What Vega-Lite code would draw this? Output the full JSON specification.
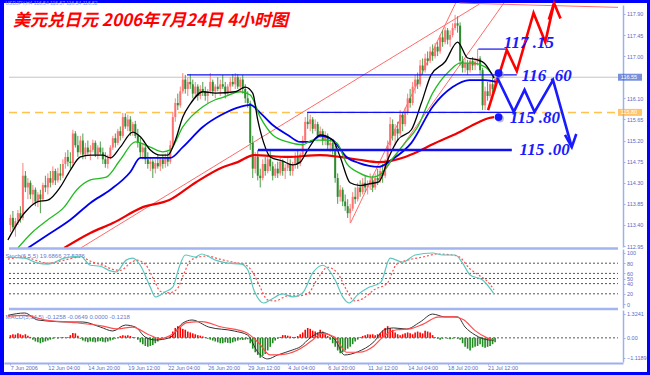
{
"$schema":"https://vega.github.io/schema/vega-lite/v6.json",
"width":643,"height":369,
"autosize":{"type":"none"},
"padding":{"left":4,"top":3,"right":3,"bottom":3},
"background":"#0000ff",
"view":{"fill":"#ffffff","stroke":null},
"config":{"axis":{"grid":false,"labelFont":"Liberation Sans","labelFontSize":5.5,"labelColor":"#5a6ac8","tickColor":"#9fb0ee","tickSize":2,"domainColor":"#9fb0ee","domainWidth":1.5,"labelPadding":1.5,"titleFont":"Liberation Sans","titleFontWeight":"normal"}},
"title":{"text":"美元兑日元 2006年7月24日  4小时图","anchor":"start","frame":"group","orient":"top","offset":-32,"dx":9,"font":"Noto Sans CJK SC","fontSize":17,"fontStyle":"italic","fontWeight":"bold","color":"#ff0000"},
"datasets":{
"c":[
{"i":1,"o":113.4,"h":113.62,"l":113.25,"c":113.55,"m":0.15},
{"i":2,"o":113.55,"h":113.7,"l":113.3,"c":113.35,"m":0.2},
{"i":3,"o":113.35,"h":113.55,"l":113.15,"c":113.48,"m":0.18},
{"i":4,"o":113.48,"h":113.72,"l":113.4,"c":113.65,"m":0.25},
{"i":5,"o":113.65,"h":113.8,"l":113.45,"c":113.55,"m":0.2},
{"i":6,"o":113.55,"h":114.72,"l":113.5,"c":114.45,"m":0.15},
{"i":7,"o":114.45,"h":114.55,"l":114.1,"c":114.2,"m":0.2},
{"i":8,"o":114.2,"h":114.4,"l":113.95,"c":114.3,"m":0.12},
{"i":9,"o":114.3,"h":114.35,"l":113.95,"c":114.05,"m":0.05},
{"i":10,"o":114.05,"h":114.25,"l":113.85,"c":114.15,"m":-0.1},
{"i":11,"o":114.15,"h":114.2,"l":113.8,"c":113.9,"m":-0.2},
{"i":12,"o":113.9,"h":114.1,"l":113.78,"c":114.05,"m":-0.25},
{"i":13,"o":114.05,"h":114.15,"l":113.65,"c":113.95,"m":-0.3},
{"i":14,"o":113.95,"h":114.3,"l":113.9,"c":114.25,"m":-0.25},
{"i":15,"o":114.25,"h":114.45,"l":114.1,"c":114.2,"m":-0.2},
{"i":16,"o":114.2,"h":114.5,"l":114.05,"c":114.4,"m":-0.15},
{"i":17,"o":114.4,"h":114.55,"l":114.2,"c":114.3,"m":-0.1},
{"i":18,"o":114.3,"h":114.65,"l":114.25,"c":114.55,"m":-0.05},
{"i":19,"o":114.55,"h":114.6,"l":114.25,"c":114.35,"m":0.02},
{"i":20,"o":114.35,"h":114.62,"l":114.3,"c":114.5,"m":-0.03},
{"i":21,"o":114.5,"h":114.7,"l":114.35,"c":114.45,"m":0.03},
{"i":22,"o":114.45,"h":114.8,"l":114.4,"c":114.7,"m":0.05},
{"i":23,"o":114.7,"h":114.95,"l":114.6,"c":114.85,"m":0.02},
{"i":24,"o":114.85,"h":115.0,"l":114.65,"c":114.75,"m":0.05},
{"i":25,"o":114.75,"h":114.95,"l":114.6,"c":114.72,"m":0.15},
{"i":26,"o":114.72,"h":115.43,"l":114.65,"c":115.35,"m":0.27},
{"i":27,"o":115.35,"h":115.4,"l":115.05,"c":115.1,"m":0.25},
{"i":28,"o":115.1,"h":115.3,"l":114.85,"c":114.95,"m":0.12},
{"i":29,"o":114.95,"h":115.3,"l":114.9,"c":115.2,"m":-0.05},
{"i":30,"o":115.2,"h":115.35,"l":114.8,"c":114.9,"m":-0.15},
{"i":31,"o":114.9,"h":115.15,"l":114.8,"c":115.05,"m":-0.2},
{"i":32,"o":115.05,"h":115.2,"l":114.9,"c":114.95,"m":-0.25},
{"i":33,"o":114.95,"h":115.1,"l":114.78,"c":115.0,"m":-0.2},
{"i":34,"o":115.0,"h":115.22,"l":114.95,"c":115.15,"m":-0.22},
{"i":35,"o":115.15,"h":115.2,"l":114.85,"c":114.9,"m":-0.25},
{"i":36,"o":114.9,"h":115.1,"l":114.8,"c":115.05,"m":-0.2},
{"i":37,"o":115.05,"h":115.18,"l":114.9,"c":114.95,"m":-0.18},
{"i":38,"o":114.95,"h":115.05,"l":114.7,"c":114.8,"m":-0.22},
{"i":39,"o":114.8,"h":114.95,"l":114.62,"c":114.7,"m":-0.25},
{"i":40,"o":114.7,"h":114.9,"l":114.6,"c":114.85,"m":-0.2},
{"i":41,"o":114.85,"h":115.1,"l":114.8,"c":115.05,"m":-0.15},
{"i":42,"o":115.05,"h":115.3,"l":115.0,"c":115.25,"m":-0.1},
{"i":43,"o":115.25,"h":115.35,"l":115.05,"c":115.15,"m":-0.05},
{"i":44,"o":115.15,"h":115.45,"l":115.1,"c":115.4,"m":0.02},
{"i":45,"o":115.4,"h":115.5,"l":115.2,"c":115.3,"m":0.1},
{"i":46,"o":115.3,"h":115.79,"l":115.25,"c":115.7,"m":0.15},
{"i":47,"o":115.7,"h":115.78,"l":115.45,"c":115.5,"m":0.12},
{"i":48,"o":115.5,"h":115.75,"l":115.4,"c":115.65,"m":0.15},
{"i":49,"o":115.65,"h":115.72,"l":115.3,"c":115.4,"m":0.1},
{"i":50,"o":115.4,"h":115.6,"l":115.3,"c":115.55,"m":0.05},
{"i":51,"o":115.55,"h":115.62,"l":115.25,"c":115.3,"m":0.02},
{"i":52,"o":115.3,"h":115.45,"l":115.05,"c":115.15,"m":-0.1},
{"i":53,"o":115.15,"h":115.25,"l":114.85,"c":114.95,"m":-0.25},
{"i":54,"o":114.95,"h":115.15,"l":114.8,"c":115.05,"m":-0.35},
{"i":55,"o":115.05,"h":115.1,"l":114.7,"c":114.8,"m":-0.45},
{"i":56,"o":114.8,"h":114.95,"l":114.6,"c":114.7,"m":-0.5},
{"i":57,"o":114.7,"h":114.85,"l":114.55,"c":114.75,"m":-0.45},
{"i":58,"o":114.75,"h":114.8,"l":114.4,"c":114.6,"m":-0.4},
{"i":59,"o":114.6,"h":114.8,"l":114.5,"c":114.72,"m":-0.3},
{"i":60,"o":114.72,"h":114.9,"l":114.6,"c":114.65,"m":-0.2},
{"i":61,"o":114.65,"h":114.85,"l":114.55,"c":114.8,"m":-0.1},
{"i":62,"o":114.8,"h":114.9,"l":114.6,"c":114.7,"m":-0.05},
{"i":63,"o":114.7,"h":114.92,"l":114.62,"c":114.85,"m":0.02},
{"i":64,"o":114.85,"h":114.95,"l":114.65,"c":114.75,"m":0.01},
{"i":65,"o":114.75,"h":115.2,"l":114.7,"c":115.1,"m":0.1},
{"i":66,"o":115.1,"h":115.81,"l":115.05,"c":115.7,"m":0.35},
{"i":67,"o":115.7,"h":116.1,"l":115.6,"c":116.0,"m":0.55},
{"i":68,"o":116.0,"h":116.2,"l":115.85,"c":115.95,"m":0.65},
{"i":69,"o":115.95,"h":116.35,"l":115.9,"c":116.25,"m":0.6},
{"i":70,"o":116.25,"h":116.64,"l":116.2,"c":116.5,"m":0.5},
{"i":71,"o":116.5,"h":116.6,"l":116.2,"c":116.3,"m":0.45},
{"i":72,"o":116.3,"h":116.55,"l":116.15,"c":116.45,"m":0.35},
{"i":73,"o":116.45,"h":116.62,"l":116.3,"c":116.4,"m":0.3},
{"i":74,"o":116.4,"h":116.5,"l":116.1,"c":116.2,"m":0.25},
{"i":75,"o":116.2,"h":116.45,"l":116.1,"c":116.35,"m":0.2},
{"i":76,"o":116.35,"h":116.4,"l":116.05,"c":116.15,"m":0.15},
{"i":77,"o":116.15,"h":116.38,"l":116.08,"c":116.3,"m":0.12},
{"i":78,"o":116.3,"h":116.45,"l":116.15,"c":116.25,"m":0.08},
{"i":79,"o":116.25,"h":116.35,"l":116.05,"c":116.15,"m":0.03},
{"i":80,"o":116.15,"h":116.3,"l":116.0,"c":116.25,"m":-0.05},
{"i":81,"o":116.25,"h":116.64,"l":116.2,"c":116.45,"m":-0.1},
{"i":82,"o":116.45,"h":116.5,"l":116.15,"c":116.25,"m":-0.15},
{"i":83,"o":116.25,"h":116.4,"l":116.1,"c":116.35,"m":-0.2},
{"i":84,"o":116.35,"h":116.55,"l":116.25,"c":116.3,"m":-0.25},
{"i":85,"o":116.3,"h":116.5,"l":116.15,"c":116.4,"m":-0.3},
{"i":86,"o":116.4,"h":116.6,"l":116.3,"c":116.35,"m":-0.3},
{"i":87,"o":116.35,"h":116.45,"l":116.1,"c":116.2,"m":-0.25},
{"i":88,"o":116.2,"h":116.4,"l":116.15,"c":116.35,"m":-0.28},
{"i":89,"o":116.35,"h":116.55,"l":116.25,"c":116.45,"m":-0.3},
{"i":90,"o":116.45,"h":116.62,"l":116.35,"c":116.4,"m":-0.25},
{"i":91,"o":116.4,"h":116.64,"l":116.3,"c":116.55,"m":-0.2},
{"i":92,"o":116.55,"h":116.62,"l":116.3,"c":116.35,"m":-0.15},
{"i":93,"o":116.35,"h":116.55,"l":116.25,"c":116.5,"m":-0.1},
{"i":94,"o":116.5,"h":116.6,"l":116.2,"c":116.3,"m":-0.12},
{"i":95,"o":116.3,"h":116.4,"l":116.0,"c":116.1,"m":-0.1},
{"i":96,"o":116.1,"h":116.25,"l":115.9,"c":116.0,"m":-0.08},
{"i":97,"o":116.0,"h":116.05,"l":115.0,"c":115.15,"m":-0.3},
{"i":98,"o":115.15,"h":115.3,"l":114.4,"c":114.6,"m":-0.6},
{"i":99,"o":114.6,"h":114.95,"l":114.5,"c":114.85,"m":-0.8},
{"i":100,"o":114.85,"h":115.0,"l":114.35,"c":114.45,"m":-0.95},
{"i":101,"o":114.45,"h":114.6,"l":114.2,"c":114.4,"m":-1.1},
{"i":102,"o":114.4,"h":114.8,"l":114.35,"c":114.7,"m":-1.0},
{"i":103,"o":114.7,"h":114.85,"l":114.45,"c":114.55,"m":-0.9},
{"i":104,"o":114.55,"h":114.9,"l":114.5,"c":114.8,"m":-0.7},
{"i":105,"o":114.8,"h":115.0,"l":114.55,"c":114.65,"m":-0.5},
{"i":106,"o":114.65,"h":114.75,"l":114.35,"c":114.45,"m":-0.3},
{"i":107,"o":114.45,"h":114.7,"l":114.4,"c":114.6,"m":-0.15},
{"i":108,"o":114.6,"h":114.75,"l":114.4,"c":114.5,"m":-0.05},
{"i":109,"o":114.5,"h":114.85,"l":114.45,"c":114.75,"m":0.05},
{"i":110,"o":114.75,"h":114.8,"l":114.45,"c":114.55,"m":0.15},
{"i":111,"o":114.55,"h":114.7,"l":114.38,"c":114.62,"m":0.15},
{"i":112,"o":114.62,"h":114.85,"l":114.55,"c":114.7,"m":0.12},
{"i":113,"o":114.7,"h":114.8,"l":114.45,"c":114.55,"m":0.08},
{"i":114,"o":114.55,"h":114.75,"l":114.45,"c":114.68,"m":0.05},
{"i":115,"o":114.68,"h":114.95,"l":114.6,"c":114.85,"m":0.05},
{"i":116,"o":114.85,"h":115.0,"l":114.6,"c":114.7,"m":0.1},
{"i":117,"o":114.7,"h":114.95,"l":114.65,"c":114.9,"m":0.2},
{"i":118,"o":114.9,"h":115.3,"l":114.85,"c":115.2,"m":0.3},
{"i":119,"o":115.2,"h":115.7,"l":115.15,"c":115.6,"m":0.45},
{"i":120,"o":115.6,"h":115.81,"l":115.45,"c":115.55,"m":0.55},
{"i":121,"o":115.55,"h":115.75,"l":115.4,"c":115.65,"m":0.5},
{"i":122,"o":115.65,"h":115.7,"l":115.35,"c":115.45,"m":0.4},
{"i":123,"o":115.45,"h":115.65,"l":115.4,"c":115.55,"m":0.35},
{"i":124,"o":115.55,"h":115.6,"l":115.25,"c":115.3,"m":0.3},
{"i":125,"o":115.3,"h":115.5,"l":115.25,"c":115.4,"m":0.45},
{"i":126,"o":115.4,"h":115.45,"l":115.1,"c":115.2,"m":0.35},
{"i":127,"o":115.2,"h":115.4,"l":115.1,"c":115.3,"m":0.2},
{"i":128,"o":115.3,"h":115.35,"l":115.0,"c":115.1,"m":0.1},
{"i":129,"o":115.1,"h":115.25,"l":114.95,"c":115.15,"m":-0.1},
{"i":130,"o":115.15,"h":115.2,"l":114.9,"c":115.0,"m":-0.3},
{"i":131,"o":115.0,"h":115.1,"l":114.3,"c":114.4,"m":-0.5},
{"i":132,"o":114.4,"h":114.5,"l":113.85,"c":114.0,"m":-0.7},
{"i":133,"o":114.0,"h":114.25,"l":113.9,"c":114.15,"m":-0.85},
{"i":134,"o":114.15,"h":114.2,"l":113.8,"c":113.9,"m":-0.8},
{"i":135,"o":113.9,"h":114.05,"l":113.7,"c":113.8,"m":-0.7},
{"i":136,"o":113.8,"h":113.95,"l":113.55,"c":113.65,"m":-0.6},
{"i":137,"o":113.65,"h":113.85,"l":113.44,"c":113.75,"m":-0.5},
{"i":138,"o":113.75,"h":114.1,"l":113.7,"c":114.0,"m":-0.35},
{"i":139,"o":114.0,"h":114.2,"l":113.85,"c":113.95,"m":-0.2},
{"i":140,"o":113.95,"h":114.3,"l":113.9,"c":114.2,"m":-0.1},
{"i":141,"o":114.2,"h":114.35,"l":114.0,"c":114.1,"m":0.05},
{"i":142,"o":114.1,"h":114.4,"l":114.05,"c":114.3,"m":0.1},
{"i":143,"o":114.3,"h":114.45,"l":114.1,"c":114.2,"m":0.15},
{"i":144,"o":114.2,"h":114.35,"l":114.05,"c":114.25,"m":0.2},
{"i":145,"o":114.25,"h":114.5,"l":114.15,"c":114.35,"m":0.18},
{"i":146,"o":114.35,"h":114.45,"l":114.1,"c":114.2,"m":0.2},
{"i":147,"o":114.2,"h":114.5,"l":114.15,"c":114.4,"m":0.15},
{"i":148,"o":114.4,"h":114.6,"l":114.25,"c":114.35,"m":0.2},
{"i":149,"o":114.35,"h":114.65,"l":114.3,"c":114.55,"m":0.25},
{"i":150,"o":114.55,"h":114.7,"l":114.3,"c":114.45,"m":0.4},
{"i":151,"o":114.45,"h":114.8,"l":114.4,"c":114.7,"m":0.55},
{"i":152,"o":114.7,"h":115.2,"l":114.65,"c":115.1,"m":0.65},
{"i":153,"o":115.1,"h":115.7,"l":115.0,"c":115.55,"m":0.55},
{"i":154,"o":115.55,"h":115.65,"l":115.2,"c":115.3,"m":0.45},
{"i":155,"o":115.3,"h":115.55,"l":115.1,"c":115.45,"m":0.3},
{"i":156,"o":115.45,"h":115.6,"l":115.2,"c":115.35,"m":0.2},
{"i":157,"o":115.35,"h":115.85,"l":115.3,"c":115.75,"m":0.15},
{"i":158,"o":115.75,"h":115.8,"l":115.4,"c":115.55,"m":0.2},
{"i":159,"o":115.55,"h":115.9,"l":115.5,"c":115.8,"m":0.25},
{"i":160,"o":115.8,"h":116.2,"l":115.75,"c":116.1,"m":0.3},
{"i":161,"o":116.1,"h":116.3,"l":115.9,"c":116.0,"m":0.25},
{"i":162,"o":116.0,"h":116.45,"l":115.95,"c":116.35,"m":0.2},
{"i":163,"o":116.35,"h":116.6,"l":116.2,"c":116.5,"m":0.3},
{"i":164,"o":116.5,"h":116.65,"l":116.3,"c":116.4,"m":0.35},
{"i":165,"o":116.4,"h":116.92,"l":116.35,"c":116.8,"m":0.3},
{"i":166,"o":116.8,"h":116.95,"l":116.6,"c":116.7,"m":0.25},
{"i":167,"o":116.7,"h":117.05,"l":116.65,"c":116.95,"m":0.4},
{"i":168,"o":116.95,"h":117.1,"l":116.8,"c":116.9,"m":0.35},
{"i":169,"o":116.9,"h":117.2,"l":116.85,"c":117.1,"m":0.3},
{"i":170,"o":117.1,"h":117.25,"l":116.9,"c":117.0,"m":0.15},
{"i":171,"o":117.0,"h":117.28,"l":116.95,"c":117.2,"m":0.05},
{"i":172,"o":117.2,"h":117.3,"l":117.0,"c":117.1,"m":-0.05},
{"i":173,"o":117.1,"h":117.45,"l":117.05,"c":117.4,"m":-0.1},
{"i":174,"o":117.4,"h":117.55,"l":117.2,"c":117.3,"m":-0.05},
{"i":175,"o":117.3,"h":117.62,"l":117.25,"c":117.55,"m":0.02},
{"i":176,"o":117.55,"h":117.6,"l":117.25,"c":117.35,"m":-0.05},
{"i":177,"o":117.35,"h":117.55,"l":117.2,"c":117.45,"m":-0.08},
{"i":178,"o":117.45,"h":117.7,"l":117.4,"c":117.6,"m":-0.05},
{"i":179,"o":117.6,"h":117.88,"l":117.55,"c":117.7,"m":0.03},
{"i":180,"o":117.7,"h":117.85,"l":117.5,"c":117.65,"m":-0.05},
{"i":181,"o":117.65,"h":117.72,"l":116.8,"c":116.9,"m":-0.1},
{"i":182,"o":116.9,"h":117.0,"l":116.65,"c":116.75,"m":-0.3},
{"i":183,"o":116.75,"h":116.95,"l":116.65,"c":116.85,"m":-0.5},
{"i":184,"o":116.85,"h":116.92,"l":116.6,"c":116.7,"m":-0.6},
{"i":185,"o":116.7,"h":116.95,"l":116.65,"c":116.9,"m":-0.7},
{"i":186,"o":116.9,"h":116.98,"l":116.7,"c":116.8,"m":-0.55},
{"i":187,"o":116.8,"h":116.95,"l":116.7,"c":116.88,"m":-0.5},
{"i":188,"o":116.88,"h":117.15,"l":116.8,"c":116.95,"m":-0.45},
{"i":189,"o":116.95,"h":117.0,"l":116.6,"c":116.7,"m":-0.35},
{"i":190,"o":116.7,"h":116.75,"l":115.85,"c":115.95,"m":-0.5},
{"i":191,"o":115.95,"h":116.35,"l":115.85,"c":116.25,"m":-0.55},
{"i":192,"o":116.25,"h":116.45,"l":116.05,"c":116.15,"m":-0.5},
{"i":193,"o":116.15,"h":116.5,"l":116.1,"c":116.4,"m":-0.45},
{"i":194,"o":116.4,"h":116.55,"l":116.2,"c":116.3,"m":-0.35},
{"i":195,"o":116.3,"h":116.57,"l":116.25,"c":116.52,"m":-0.25}
],
"bk":[{"i":0,"p":113.08},{"i":6.7,"p":113.66},{"i":12,"p":113.9},{"i":16,"p":113.93},{"i":21,"p":114.21},{"i":25,"p":114.57},{"i":29,"p":114.85},{"i":33,"p":114.89},{"i":38,"p":114.89},{"i":41,"p":114.83},{"i":45,"p":115.06},{"i":50,"p":115.38},{"i":53,"p":115.28},{"i":57,"p":115.0},{"i":61,"p":114.89},{"i":64,"p":114.89},{"i":67,"p":115.2},{"i":70,"p":115.7},{"i":73,"p":115.98},{"i":78,"p":116.24},{"i":83,"p":116.21},{"i":91,"p":116.24},{"i":95,"p":116.34},{"i":98,"p":116.21},{"i":100,"p":115.64},{"i":102.4,"p":115.15},{"i":105,"p":114.85},{"i":110,"p":114.76},{"i":114,"p":114.68},{"i":117,"p":114.74},{"i":120,"p":115.0},{"i":125,"p":115.32},{"i":130,"p":115.21},{"i":133,"p":114.85},{"i":137,"p":114.3},{"i":141,"p":114.24},{"i":145,"p":114.28},{"i":148.5,"p":114.32},{"i":152.5,"p":114.85},{"i":156,"p":115.21},{"i":161.5,"p":115.43},{"i":165.5,"p":116.0},{"i":169.4,"p":116.6},{"i":175,"p":116.88},{"i":180,"p":117.3},{"i":184,"p":116.96},{"i":188,"p":116.92},{"i":190.7,"p":116.85},{"i":194.6,"p":116.53}],
"gr":[{"i":4,"p":112.91},{"i":9.5,"p":113.23},{"i":16,"p":113.51},{"i":22.5,"p":113.78},{"i":27.6,"p":114.15},{"i":33,"p":114.36},{"i":39.4,"p":114.42},{"i":45,"p":114.79},{"i":51,"p":115.17},{"i":57,"p":115.06},{"i":62,"p":114.96},{"i":65,"p":115.0},{"i":70,"p":115.49},{"i":78,"p":115.92},{"i":83,"p":116.07},{"i":85.5,"p":116.11},{"i":93,"p":116.24},{"i":97,"p":116.17},{"i":101,"p":115.7},{"i":106,"p":115.32},{"i":112,"p":115.17},{"i":118,"p":115.11},{"i":122,"p":115.21},{"i":127.6,"p":115.21},{"i":131.6,"p":115.15},{"i":135.5,"p":114.72},{"i":140.6,"p":114.51},{"i":145.8,"p":114.42},{"i":149.7,"p":114.51},{"i":153.6,"p":114.79},{"i":159,"p":115.15},{"i":164,"p":115.49},{"i":170,"p":116.21},{"i":177,"p":116.7},{"i":181,"p":116.85},{"i":186,"p":116.85},{"i":191,"p":116.77},{"i":194.6,"p":116.56}],
"bl":[{"i":8,"p":112.91},{"i":16,"p":113.19},{"i":25,"p":113.51},{"i":33,"p":113.87},{"i":41,"p":114.15},{"i":49,"p":114.53},{"i":53,"p":114.83},{"i":65,"p":114.83},{"i":70,"p":115.06},{"i":78,"p":115.49},{"i":85.5,"p":115.75},{"i":93,"p":115.92},{"i":97,"p":115.96},{"i":101,"p":115.79},{"i":106,"p":115.53},{"i":112,"p":115.32},{"i":117,"p":115.17},{"i":121,"p":115.17},{"i":125,"p":115.3},{"i":130,"p":115.21},{"i":135.5,"p":114.85},{"i":140.6,"p":114.72},{"i":148.5,"p":114.64},{"i":153.6,"p":114.79},{"i":161.5,"p":115.15},{"i":170,"p":115.92},{"i":178,"p":116.34},{"i":184.7,"p":116.49},{"i":191,"p":116.49},{"i":195.5,"p":116.45}],
"rd":[{"i":22.5,"p":112.91},{"i":33,"p":113.23},{"i":42,"p":113.44},{"i":54,"p":113.78},{"i":64.6,"p":113.93},{"i":75,"p":114.3},{"i":85.5,"p":114.62},{"i":92,"p":114.74},{"i":98.5,"p":114.89},{"i":112,"p":114.85},{"i":124.9,"p":114.89},{"i":133,"p":114.85},{"i":140.6,"p":114.79},{"i":148.5,"p":114.74},{"i":159,"p":114.85},{"i":164,"p":114.96},{"i":170,"p":115.12},{"i":180,"p":115.36},{"i":188,"p":115.58},{"i":192.6,"p":115.68},{"i":194.6,"p":115.7}],
"k":[{"i":0,"v":92},{"i":6.7,"v":90},{"i":12,"v":80},{"i":16,"v":78},{"i":22.5,"v":90},{"i":29,"v":94},{"i":33,"v":76},{"i":37,"v":74},{"i":41,"v":65},{"i":43.4,"v":63},{"i":47.3,"v":86},{"i":50,"v":90},{"i":53,"v":76},{"i":57,"v":33},{"i":59,"v":14},{"i":63,"v":24},{"i":66,"v":33},{"i":68.6,"v":73},{"i":71,"v":96},{"i":75,"v":92},{"i":77.6,"v":98},{"i":83,"v":86},{"i":88,"v":80},{"i":93.4,"v":78},{"i":96,"v":67},{"i":98.5,"v":27},{"i":102.4,"v":2},{"i":105,"v":8},{"i":110,"v":20},{"i":114,"v":14},{"i":118,"v":22},{"i":122,"v":61},{"i":126,"v":76},{"i":131,"v":47},{"i":134,"v":14},{"i":136.7,"v":2},{"i":139.9,"v":18},{"i":143.8,"v":31},{"i":149.3,"v":43},{"i":153,"v":90},{"i":158,"v":82},{"i":163,"v":96},{"i":170,"v":100},{"i":174,"v":96},{"i":179,"v":96},{"i":182,"v":80},{"i":185,"v":57},{"i":190,"v":47},{"i":194.6,"v":20}],
"d":[{"i":0,"v":88},{"i":6.7,"v":92},{"i":12,"v":84},{"i":16,"v":80},{"i":22.5,"v":86},{"i":29,"v":92},{"i":34,"v":82},{"i":38,"v":76},{"i":42,"v":68},{"i":45,"v":66},{"i":49,"v":80},{"i":51.5,"v":86},{"i":55,"v":78},{"i":58.7,"v":45},{"i":61,"v":25},{"i":64.6,"v":22},{"i":67.8,"v":30},{"i":70.5,"v":60},{"i":73,"v":85},{"i":76.4,"v":92},{"i":79.6,"v":94},{"i":84.7,"v":88},{"i":90,"v":82},{"i":95.4,"v":76},{"i":98,"v":62},{"i":100.5,"v":38},{"i":104,"v":8},{"i":107,"v":6},{"i":112,"v":16},{"i":116,"v":16},{"i":120,"v":20},{"i":124,"v":50},{"i":128,"v":72},{"i":132,"v":60},{"i":135.5,"v":28},{"i":138.7,"v":6},{"i":142.6,"v":12},{"i":146.6,"v":28},{"i":151.7,"v":40},{"i":155.6,"v":78},{"i":160,"v":86},{"i":166,"v":92},{"i":172,"v":98},{"i":178,"v":96},{"i":180.8,"v":92},{"i":184.7,"v":70},{"i":188.7,"v":56},{"i":191.8,"v":45},{"i":194.6,"v":28}],
"mm":[{"i":0,"v":1.25},{"i":6.7,"v":1.38},{"i":12,"v":0.99},{"i":25,"v":0.88},{"i":30,"v":0.88},{"i":37,"v":0.6},{"i":42,"v":0.38},{"i":47,"v":0.71},{"i":51,"v":0.6},{"i":55,"v":0.04},{"i":59,"v":-0.12},{"i":64.6,"v":0.0},{"i":70,"v":0.82},{"i":73.7,"v":0.99},{"i":80.4,"v":0.6},{"i":90.6,"v":0.38},{"i":96,"v":0.15},{"i":100,"v":-0.79},{"i":104,"v":-1.17},{"i":108,"v":-0.95},{"i":114,"v":-0.67},{"i":117,"v":-0.5},{"i":121,"v":0.0},{"i":125.5,"v":0.3},{"i":131,"v":-0.12},{"i":134.7,"v":-0.95},{"i":139.9,"v":-0.78},{"i":146.5,"v":-0.22},{"i":150.5,"v":0.44},{"i":154.4,"v":0.55},{"i":159.5,"v":0.49},{"i":165,"v":0.88},{"i":170,"v":1.32},{"i":175,"v":1.16},{"i":180,"v":1.16},{"i":183,"v":0.6},{"i":187,"v":0.16},{"i":192.6,"v":-0.12},{"i":194.6,"v":-0.13}],
"ms":[{"i":0,"v":1.2},{"i":6.7,"v":1.25},{"i":14.6,"v":1.0},{"i":26.4,"v":0.85},{"i":38,"v":0.65},{"i":44,"v":0.5},{"i":50,"v":0.6},{"i":56,"v":0.2},{"i":61,"v":-0.05},{"i":65.8,"v":0.2},{"i":71.7,"v":0.85},{"i":77.6,"v":0.9},{"i":85.5,"v":0.6},{"i":95.3,"v":0.3},{"i":100.5,"v":-0.3},{"i":105,"v":-0.95},{"i":111,"v":-0.9},{"i":117,"v":-0.6},{"i":121.7,"v":-0.15},{"i":125.7,"v":0.25},{"i":130.8,"v":0.05},{"i":135.5,"v":-0.8},{"i":140.6,"v":-0.8},{"i":146.5,"v":-0.45},{"i":150.5,"v":0.1},{"i":155.6,"v":0.45},{"i":161,"v":0.5},{"i":166,"v":0.75},{"i":172,"v":1.15},{"i":178,"v":1.18},{"i":182.4,"v":1.0},{"i":187,"v":0.4},{"i":191.8,"v":0.0},{"i":194.6,"v":-0.12}]
},
"layer":[
 {"data":{"values":[{"p":116.55}]},"mark":{"type":"rule","color":"#c4c4c4","strokeWidth":1},
  "encoding":{"x":{"datum":0.44,"type":"quantitative","scale":{"domain":[0.44,244.2],"range":[0,619],"nice":false,"zero":false},"axis":null},"x2":{"datum":244.2},"y":{"field":"p","type":"quantitative","scale":{"domain":[112.93,118.09],"range":[244,2],"nice":false,"zero":false},"axis":null}}},
 {"data":{"values":[{"p":115.8}]},"mark":{"type":"rule","color":"#ffc24f","strokeWidth":1.5,"strokeDash":[8,5]},
  "encoding":{"x":{"datum":0.44,"type":"quantitative","axis":null},"x2":{"datum":244.2},"y":{"field":"p","type":"quantitative","scale":{"domain":[112.93,118.09],"range":[244,2],"nice":false,"zero":false},"axis":null}}},
 {"data":{"values":[{"i1":29.2,"p1":112.91,"i2":188.7,"p2":118.11},{"i1":137.1,"p1":113.44,"i2":179.2,"p2":118.13},{"i1":145.4,"p1":114.15,"i2":198.5,"p2":118.13},{"i1":180.8,"p1":118.13,"i2":244.2,"p2":118.04}]},
  "mark":{"type":"rule","color":"#ff6a6a","strokeWidth":1},
  "encoding":{"x":{"field":"i1","type":"quantitative","axis":null},"x2":{"field":"i2"},"y":{"field":"p1","type":"quantitative","scale":{"domain":[112.93,118.09],"range":[244,2],"nice":false,"zero":false},"axis":null},"y2":{"field":"p2"}}},
 {"data":{"name":"c"},"mark":{"type":"rule","strokeWidth":1},
  "encoding":{"x":{"field":"i","type":"quantitative","axis":null},"y":{"field":"l","type":"quantitative","scale":{"domain":[112.93,118.09],"range":[244,2],"nice":false,"zero":false},"axis":{"orient":"right","offset":-24,"values":[112.95,113.4,113.85,114.3,114.75,115.2,115.65,116.1,117,117.45,117.9],"format":".2f","labelOverlap":false,"title":"USDJPY,H4  116.54 116.57 116.54 116.52","titleAngle":0,"titleAlign":"left","titleBaseline":"top","titleX":-618,"titleY":-2.5,"titleFontSize":5,"titleColor":"#8a9ad8"}},"y2":{"field":"h"},
   "color":{"condition":{"test":"datum.c >= datum.o","value":"#ff8080"},"value":"#4a9f4a"}}},
 {"data":{"name":"c"},"mark":{"type":"bar","size":2},
  "encoding":{"x":{"field":"i","type":"quantitative","axis":null},"y":{"field":"o","type":"quantitative","scale":{"domain":[112.93,118.09],"range":[244,2],"nice":false,"zero":false},"axis":null},"y2":{"field":"c"},
   "color":{"condition":{"test":"datum.c >= datum.o","value":"#ff7070"},"value":"#2e8b2e"}}},
 {"data":{"name":"rd"},"mark":{"type":"line","color":"#ee0000","strokeWidth":2.2,"interpolate":"monotone"},"encoding":{"x":{"field":"i","type":"quantitative","axis":null},"y":{"field":"p","type":"quantitative","scale":{"domain":[112.93,118.09],"range":[244,2],"nice":false,"zero":false},"axis":null}}},
 {"data":{"name":"bl"},"mark":{"type":"line","color":"#0000ee","strokeWidth":1.8,"interpolate":"monotone"},"encoding":{"x":{"field":"i","type":"quantitative","axis":null},"y":{"field":"p","type":"quantitative","scale":{"domain":[112.93,118.09],"range":[244,2],"nice":false,"zero":false},"axis":null}}},
 {"data":{"name":"gr"},"mark":{"type":"line","color":"#22bb22","strokeWidth":1.3,"interpolate":"monotone"},"encoding":{"x":{"field":"i","type":"quantitative","axis":null},"y":{"field":"p","type":"quantitative","scale":{"domain":[112.93,118.09],"range":[244,2],"nice":false,"zero":false},"axis":null}}},
 {"data":{"name":"bk"},"mark":{"type":"line","color":"#000000","strokeWidth":1.3,"interpolate":"monotone"},"encoding":{"x":{"field":"i","type":"quantitative","axis":null},"y":{"field":"p","type":"quantitative","scale":{"domain":[112.93,118.09],"range":[244,2],"nice":false,"zero":false},"axis":null}}},
 {"data":{"values":[{"p":117.15,"i1":188.3,"i2":199.7},{"p":116.6,"i1":71.7,"i2":203.7},{"p":115.8,"i1":119.8,"i2":202.5},{"p":115.0,"i1":100.1,"i2":201.7}]},
  "mark":{"type":"rule","color":"#1010f0"},
  "encoding":{"x":{"field":"i1","type":"quantitative","axis":null},"x2":{"field":"i2"},"y":{"field":"p","type":"quantitative","scale":{"domain":[112.93,118.09],"range":[244,2],"nice":false,"zero":false},"axis":null},
   "strokeWidth":{"condition":{"test":"datum.p == 115","value":2.5},"value":1.2}}},
 {"data":{"values":[
   {"g":"up","d":"up","s":1,"i":192.2,"p":115.85},{"g":"up","d":"up","s":2,"i":199.7,"p":117.13},{"g":"up","d":"up","s":3,"i":203.7,"p":116.68},{"g":"up","d":"up","s":4,"i":210.4,"p":117.92},{"g":"up","d":"up","s":5,"i":215.1,"p":117.3},{"g":"up","d":"up","s":6,"i":218.6,"p":118.13},
   {"g":"upA","d":"up","s":1,"i":216.5,"p":117.78},{"g":"upA","d":"up","s":2,"i":218.6,"p":118.13},{"g":"upA","d":"up","s":3,"i":221.2,"p":117.8},
   {"g":"dn","d":"dn","s":1,"i":195.8,"p":116.55},{"g":"dn","d":"dn","s":2,"i":202.5,"p":115.81},{"g":"dn","d":"dn","s":3,"i":206.8,"p":116.28},{"g":"dn","d":"dn","s":4,"i":210.8,"p":115.81},{"g":"dn","d":"dn","s":5,"i":218.2,"p":116.49},{"g":"dn","d":"dn","s":6,"i":225.7,"p":115.06},
   {"g":"dnA","d":"dn","s":1,"i":223.0,"p":115.32},{"g":"dnA","d":"dn","s":2,"i":225.7,"p":115.06},{"g":"dnA","d":"dn","s":3,"i":227.5,"p":115.34}]},
  "mark":{"type":"line","strokeWidth":2.6,"strokeJoin":"miter"},
  "encoding":{"x":{"field":"i","type":"quantitative","axis":null},"y":{"field":"p","type":"quantitative","scale":{"domain":[112.93,118.09],"range":[244,2],"nice":false,"zero":false},"axis":null},"detail":{"field":"g"},"order":{"field":"s"},
   "color":{"field":"d","type":"nominal","scale":{"domain":["up","dn"],"range":["#ff0000","#1a1aff"]},"legend":null}}},
 {"data":{"values":[{"i":196.4,"p":116.64},{"i":196.4,"p":115.7}]},"mark":{"type":"point","filled":true,"size":60,"color":"#999999","opacity":0.6,"xOffset":1.5,"yOffset":1.5},"encoding":{"x":{"field":"i","type":"quantitative","axis":null},"y":{"field":"p","type":"quantitative","scale":{"domain":[112.93,118.09],"range":[244,2],"nice":false,"zero":false},"axis":null}}},
 {"data":{"values":[{"i":196.4,"p":116.64},{"i":196.4,"p":115.7}]},"mark":{"type":"point","filled":true,"size":60,"color":"#1515ff","opacity":1},"encoding":{"x":{"field":"i","type":"quantitative","axis":null},"y":{"field":"p","type":"quantitative","scale":{"domain":[112.93,118.09],"range":[244,2],"nice":false,"zero":false},"axis":null}}},
 {"data":{"values":[{"t":"117 .15","i":198.5,"p":117.28},{"t":"116 .60","i":205.6,"p":116.58},{"t":"115 .80","i":200.9,"p":115.68},{"t":"115 .00","i":204.8,"p":114.99}]},
  "mark":{"type":"text","align":"left","baseline":"middle","font":"Liberation Serif","fontStyle":"italic","fontWeight":"bold","fontSize":17,"color":"#1a1aff"},
  "encoding":{"x":{"field":"i","type":"quantitative","axis":null},"y":{"field":"p","type":"quantitative","scale":{"domain":[112.93,118.09],"range":[244,2],"nice":false,"zero":false},"axis":null},"text":{"field":"t"}}},
 {"data":{"values":[{"p":116.55},{"p":115.8}]},"mark":{"type":"tick","orient":"horizontal","size":24,"thickness":7},
  "encoding":{"x":{"datum":249.0,"type":"quantitative","axis":null},"y":{"field":"p","type":"quantitative","scale":{"domain":[112.93,118.09],"range":[244,2],"nice":false,"zero":false},"axis":null},
   "color":{"condition":{"test":"datum.p > 116","value":"#3f5fd0"},"value":"#ffa928"}}},
 {"data":{"values":[{"p":116.55,"t":"116.55"},{"p":115.8,"t":"115.80"}]},"mark":{"type":"text","align":"left","baseline":"middle","fontSize":5.5,"font":"Liberation Sans","color":"#ffffff","dx":2},
  "encoding":{"x":{"datum":244.5,"type":"quantitative","axis":null},"y":{"field":"p","type":"quantitative","scale":{"domain":[112.93,118.09],"range":[244,2],"nice":false,"zero":false},"axis":null},"text":{"field":"t"}}},
 {"data":{"values":[{"v":108.8},{"v":-9.6}]},"mark":{"type":"rule","color":"#a3b5f0","strokeWidth":2.5},
  "encoding":{"x":{"datum":0.44,"type":"quantitative","axis":null},"x2":{"datum":244.2},"y":{"field":"v","type":"quantitative","scale":{"domain":[-7.8,107.8],"range":[305,246],"nice":false,"zero":false},"axis":null}}},
 {"data":{"values":[{"v":80},{"v":60},{"v":50},{"v":40},{"v":20}]},"mark":{"type":"rule","color":"#555555","strokeWidth":1,"strokeDash":[2,2]},
  "encoding":{"x":{"datum":0.44,"type":"quantitative","axis":null},"x2":{"datum":244.2},"y":{"field":"v","type":"quantitative","scale":{"domain":[-7.8,107.8],"range":[305,246],"nice":false,"zero":false},"axis":{"orient":"right","offset":-24,"values":[0,20,40,50,60,80,100],"labelOverlap":false,"labelFontSize":5.5,"title":"Stoch(6,5,5) 19.6866 27.5376","titleAngle":0,"titleAlign":"left","titleBaseline":"middle","titleX":-618,"titleY":252,"titleFontSize":6,"titleColor":"#6a7ad0"}}}},
 {"data":{"name":"d"},"mark":{"type":"line","color":"#ff5050","strokeWidth":1.2,"strokeDash":[2,2],"interpolate":"monotone"},"encoding":{"x":{"field":"i","type":"quantitative","axis":null},"y":{"field":"v","type":"quantitative","scale":{"domain":[-7.8,107.8],"range":[305,246],"nice":false,"zero":false},"axis":null}}},
 {"data":{"name":"k"},"mark":{"type":"line","color":"#5cc8c0","strokeWidth":1.2,"interpolate":"monotone"},"encoding":{"x":{"field":"i","type":"quantitative","axis":null},"y":{"field":"v","type":"quantitative","scale":{"domain":[-7.8,107.8],"range":[305,246],"nice":false,"zero":false},"axis":null}}},
 {"data":{"name":"c"},"mark":{"type":"bar","size":1.6},
  "encoding":{"x":{"field":"i","type":"quantitative",
     "axis":{"orient":"bottom","offset":-9,"zindex":1,"values":[0.9,16,32,48,64,80,96,112,128,144,160,176,192],"labelExpr":"['7 Jun 2006','12 Jun 04:00','14 Jun 20:00','19 Jun 12:00','22 Jun 04:00','26 Jun 20:00','29 Jun 12:00','4 Jul 04:00','6 Jul 20:00','11 Jul 12:00','14 Jul 04:00','18 Jul 20:00','21 Jul 12:00'][round(datum.value/16)]","labelAlign":"left","labelFontSize":5.5,"labelPadding":0.5,"tickSize":2,"domainWidth":2,"title":null,"labelOverlap":false,"labelFlush":false,"labelBound":false}},
   "y":{"field":"m","type":"quantitative","scale":{"domain":[-1.341,1.546],"range":[359,307],"nice":false,"zero":false},"axis":{"orient":"right","offset":-24,"values":[-1.1189,0,1.3241],"labelOverlap":false,"labelExpr":"datum.value == 0 ? '0.00' : format(datum.value, '.4f')","title":"MACD(5,34,5) -0.1258 -0.0649 0.0000 -0.1218","titleAngle":0,"titleAlign":"left","titleBaseline":"middle","titleX":-618,"titleY":313,"titleFontSize":6,"titleColor":"#6a7ad0"}},
   "y2":{"datum":0},
   "color":{"condition":{"test":"datum.m >= 0","value":"#ff0000"},"value":"#1e8c1e"}}},
 {"data":{"values":[{"v":0}]},"mark":{"type":"rule","color":"#555555","strokeWidth":1,"strokeDash":[2,2]},
  "encoding":{"x":{"datum":0.44,"type":"quantitative","axis":null},"x2":{"datum":244.2},"y":{"field":"v","type":"quantitative","scale":{"domain":[-1.341,1.546],"range":[359,307],"nice":false,"zero":false},"axis":null}}},
 {"data":{"name":"mm"},"mark":{"type":"line","color":"#333333","strokeWidth":1,"interpolate":"monotone"},"encoding":{"x":{"field":"i","type":"quantitative","axis":null},"y":{"field":"v","type":"quantitative","scale":{"domain":[-1.341,1.546],"range":[359,307],"nice":false,"zero":false},"axis":null}}},
 {"data":{"name":"ms"},"mark":{"type":"line","color":"#ff4d4d","strokeWidth":1.2,"interpolate":"monotone"},"encoding":{"x":{"field":"i","type":"quantitative","axis":null},"y":{"field":"v","type":"quantitative","scale":{"domain":[-1.341,1.546],"range":[359,307],"nice":false,"zero":false},"axis":null}}}
],
"resolve":{"scale":{"y":"independent"},"axis":{"x":"independent","y":"independent"}}
}
